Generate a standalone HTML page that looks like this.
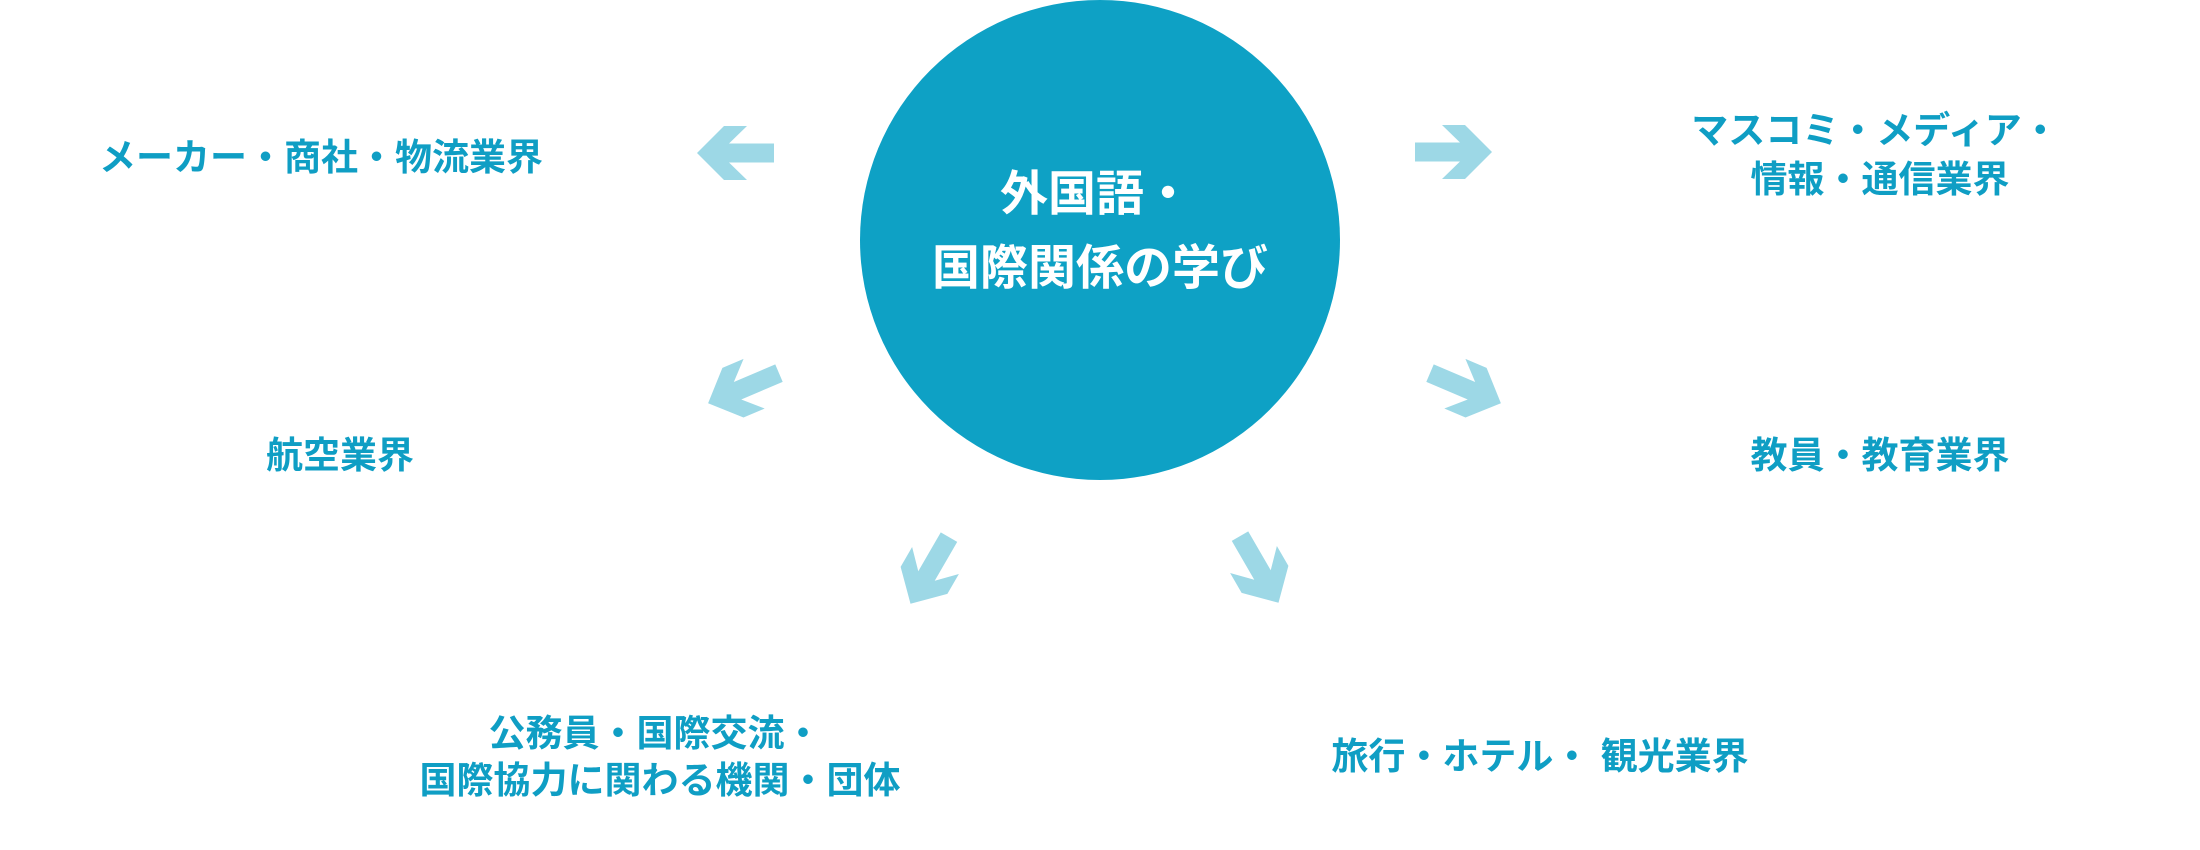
<!DOCTYPE html>
<html><head><meta charset="utf-8"><style>
html,body{margin:0;padding:0;background:#fff;width:2200px;height:850px;overflow:hidden}
svg{display:block}
text{font-family:"Liberation Sans","Noto Sans CJK JP",sans-serif;font-weight:700}
</style></head><body>
<svg width="2200" height="850" viewBox="0 0 2200 850" xmlns="http://www.w3.org/2000/svg">
<defs>
<polygon id="ar" points="-38,-9.5 7,-9.5 -11,-27 12,-27 39,0 12,27 -11,27 7,9.5 -38,9.5" fill="#9dd8e6"/>
</defs>
<circle cx="1100" cy="240" r="240" fill="#0ea1c5"/>
<text x="1096" y="210" font-size="48" fill="#fff" text-anchor="middle">外国語・</text>
<text x="1100" y="284" font-size="48" fill="#fff" text-anchor="middle">国際関係の学び</text>

<use href="#ar" transform="translate(736,153) rotate(180)"/>
<use href="#ar" transform="translate(1453,152)"/>
<use href="#ar" transform="translate(744,388) rotate(157)"/>
<use href="#ar" transform="translate(1465,388) rotate(23)"/>
<use href="#ar" transform="translate(930,570) rotate(120)"/>
<use href="#ar" transform="translate(1259,569) rotate(60)"/>

<g fill="#0f9ec4" font-size="37" text-anchor="middle">
<text x="321" y="170">メーカー・商社・物流業界</text>
<text x="340" y="468">航空業界</text>
<text x="655" y="746">公務員・国際交流・</text>
<text x="660" y="793">国際協力に関わる機関・団体</text>
<text x="1875" y="143">マスコミ・メディア・</text>
<text x="1880" y="192">情報・通信業界</text>
<text x="1880" y="468">教員・教育業界</text>
<text x="1540" y="769">旅行・ホテル・ 観光業界</text>
</g>
</svg>
</body></html>
